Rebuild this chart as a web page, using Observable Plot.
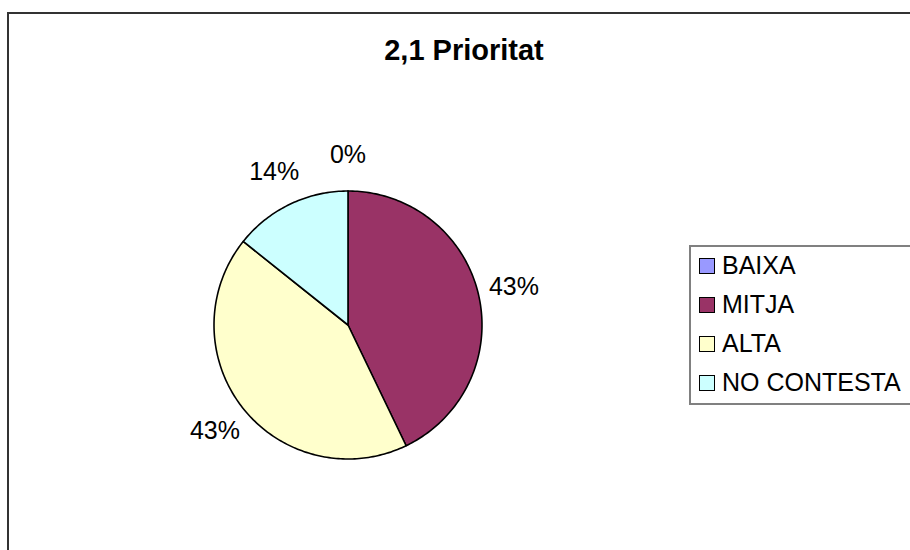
<!DOCTYPE html>
<html>
<head>
<meta charset="utf-8">
<script src="https://cdn.jsdelivr.net/npm/d3@7"></script>
<script src="https://cdn.jsdelivr.net/npm/@observablehq/plot@0.6"></script>
<style>
  html, body { margin: 0; padding: 0; background: #fff; width: 910px; height: 550px; overflow: hidden; }
  body { position: relative; font-family: Arial, "Liberation Sans", sans-serif; }
  #frame { position: absolute; left: 7px; top: 12px; width: 1000px; height: 1000px; border: 2px solid #333; box-sizing: border-box; }
  #title { position: absolute; left: 0; width: 928px; top: 33px; text-align: center; font-weight: bold; font-size: 29px; line-height: 34px; color: #000; }
  #chart { position: absolute; left: 0; top: 0; }
  #legend { position: absolute; left: 689px; top: 245px; width: 400px; height: 160px; border: 2px solid #808080; box-sizing: border-box; }
  .item { position: absolute; left: 8px; height: 30px; font-size: 25px; line-height: 30px; white-space: nowrap; color: #000; }
  .sw { position: absolute; left: 0; top: 8px; width: 14px; height: 14px; border: 1.5px solid #000; }
  .lbl { position: absolute; left: 23px; top: 0; }
</style>
</head>
<body>
<div id="frame"></div>
<div id="title">2,1 Prioritat</div>
<div id="chart"></div>
<div id="legend"></div>
<script>
const categories = ["BAIXA", "MITJA", "ALTA", "NO CONTESTA"];
const values = [0, 3, 3, 1];
const colors = ["#9999FF", "#993366", "#FFFFCC", "#CCFFFF"];

const total = d3.sum(values);
const arcs = d3.pie().sort(null).value(d => d)(values);

// polygon outlines of each slice (unit radius, angle 0 at 12 o'clock, clockwise)
const slicePts = [];
arcs.forEach((a, i) => {
  const cat = categories[i];
  slicePts.push({cat, x: 0, y: 0});
  const n = Math.max(1, Math.ceil((a.endAngle - a.startAngle) / (Math.PI / 180)));
  for (let k = 0; k <= n; k++) {
    const t = a.startAngle + (a.endAngle - a.startAngle) * k / n;
    slicePts.push({cat, x: Math.sin(t), y: Math.cos(t)});
  }
  slicePts.push({cat, x: 0, y: 0});
});

const labelR = 1.27;
const labelData = arcs.map((a, i) => {
  const m = (a.startAngle + a.endAngle) / 2;
  return {x: labelR * Math.sin(m), y: labelR * Math.cos(m), text: Math.round(values[i] / total * 100) + "%"};
});

const plot = Plot.plot({
  width: 910,
  height: 550,
  marginLeft: 213.5,
  marginRight: 428.5,
  marginTop: 190.5,
  marginBottom: 91.5,
  x: {domain: [-1, 1], axis: null},
  y: {domain: [-1, 1], axis: null},
  color: {domain: categories, range: colors},
  style: {fontFamily: "Arial, 'Liberation Sans', sans-serif", background: "transparent", overflow: "visible"},
  marks: [
    Plot.line(slicePts, {x: "x", y: "y", z: "cat", fill: "cat", stroke: "#000", strokeWidth: 1.6, curve: "linear", strokeLinejoin: "round"}),
    Plot.text(labelData, {x: "x", y: "y", text: "text", fontSize: 25, fill: "#000"})
  ]
});
document.getElementById("chart").appendChild(plot);

const legend = d3.select("#legend");
categories.forEach((c, i) => {
  const it = legend.append("div").attr("class", "item").style("top", (3 + i * 39) + "px");
  it.append("div").attr("class", "sw").style("background", colors[i]);
  it.append("div").attr("class", "lbl").text(c);
});
</script>
</body>
</html>
